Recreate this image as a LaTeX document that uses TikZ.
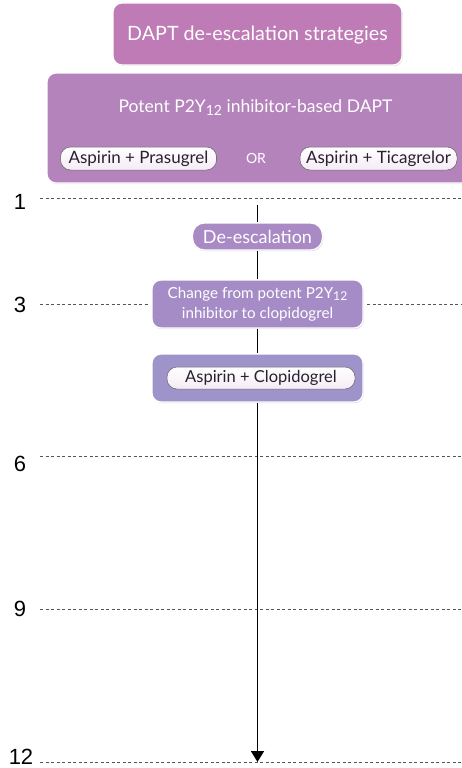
\documentclass[tikz,border=0pt]{standalone}
\usepackage{fontspec}
\setmainfont{Lato}
\newfontfamily\arialfont{Liberation Sans}
\usetikzlibrary{arrows.meta,shadows}
\definecolor{boxA}{HTML}{BE7BB5}
\definecolor{boxB}{HTML}{B583BC}
\definecolor{boxC}{HTML}{AA8AC4}
\definecolor{boxD}{HTML}{A58CC6}
\definecolor{boxE}{HTML}{9E94C9}
\definecolor{pilltxt}{HTML}{2A2030}
\definecolor{dashgray}{HTML}{555555}
\newcommand{\psub}{\raisebox{-0.35ex}{\scalebox{0.8}{12}}}
\begin{document}
\begin{tikzpicture}[x=1pt,y=-1pt,
  panel/.style={draw=white,line width=1.2pt,rounded corners=9pt,inner sep=0pt,
    drop shadow={shadow xshift=0.8pt,shadow yshift=-1.2pt,opacity=0.25}},
  pill/.style={draw=pilltxt!70,line width=0.5pt,rounded corners=10pt,top color=white,bottom color=boxA!15,
    inner sep=0pt,text=pilltxt,font=\fontsize{17}{19}\selectfont},
  wtxt/.style={text=white,inner sep=0pt,align=center},
  guide/.style={draw=dashgray,line width=0.8pt,dash pattern=on 3pt off 2.5pt},
  tick/.style={font=\arialfont\fontsize{22}{24}\selectfont,inner sep=0pt},
  axis/.style={draw=black,line width=1.8pt}]
\useasboundingbox (0,0) rectangle (462,768);
\fill[white] (0,0) rectangle (462,768);
\begin{scope}
\clip (0,0) rectangle (462,768);
\node[panel,fill=boxA,minimum width=289pt,minimum height=62pt] (title) at (257.5,34) {};
\node[wtxt,font=\fontsize{19.7}{22}\selectfont] (titletxt) at (257.5,35) {DAPT de-escalation strategies};
\node[panel,fill=boxB,minimum width=430pt,minimum height=110pt] (potent) at (262,128) {};
\end{scope}
\node[wtxt,font=\fontsize{17.5}{20}\selectfont] (potenttxt) at (255.5,108) {Potent P2Y\psub{} inhibitor-based DAPT};
\node[pill,minimum width=156pt,minimum height=23pt] (pras) at (138.5,158.5) {Aspirin + Prasugrel};
\node[wtxt,font=\fontsize{14}{16}\selectfont] (or) at (256,158) {OR};
\node[pill,minimum width=157pt,minimum height=23pt] (tica) at (378.5,158.5) {Aspirin + Ticagrelor};
% guides
\draw[guide] (40,198) -- (462,198);
\draw[guide] (40,304) -- (148,304);
\draw[guide] (367,304) -- (462,304);
\draw[guide] (40,456) -- (462,456);
\draw[guide] (40,609) -- (462,609);
\draw[guide] (40,762) -- (462,762);
\node[tick] (t1) at (20,202) {1};
\node[tick] (t3) at (20,305) {3};
\node[tick] (t6) at (20,464) {6};
\node[tick] (t9) at (20,609) {9};
\node[tick,anchor=north] (t12) at (21,749) {12};
% timeline boxes
\node[panel,fill=boxC,rounded corners=12pt,minimum width=130pt,minimum height=27pt,wtxt,font=\fontsize{18}{20}\selectfont] (deesc) at (257.5,236.5) {De-escalation};
\node[panel,fill=boxD,minimum width=211pt,minimum height=48pt,wtxt,font=\fontsize{15.2}{20}\selectfont] (change) at (257.5,304) {Change from potent P2Y\psub\\inhibitor to clopidogrel};
\node[panel,fill=boxE,minimum width=211pt,minimum height=48pt] (clopbox) at (257.5,378) {};
\node[pill,minimum width=188pt,minimum height=22pt,font=\fontsize{16.5}{18}\selectfont] (clop) at (261,378) {Aspirin + Clopidogrel};
\coordinate (start) at (257.5,205);
\coordinate (end) at (257.5,762);
\draw[axis] (start) -- (deesc.north);
\draw[axis] (deesc.south) -- (change.north);
\draw[axis] (change.south) -- (clopbox.north);
\draw[axis,-{Triangle[width=13pt,length=11pt]}] (clopbox.south) -- (end);
\end{tikzpicture}
\end{document}
